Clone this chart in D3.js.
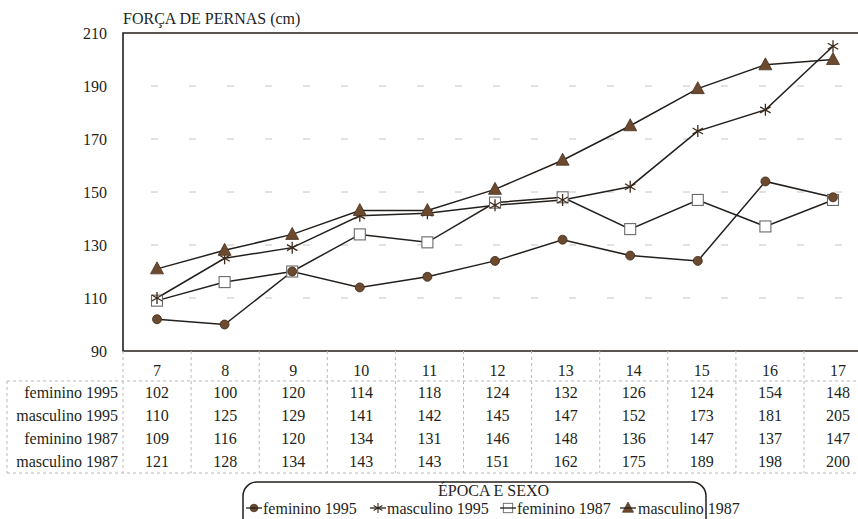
<!DOCTYPE html>
<html>
<head>
<meta charset="utf-8">
<script src="https://cdn.jsdelivr.net/npm/d3@7"></script>
<style>
  html, body { margin: 0; padding: 0; background: #fff; }
  text { font-family: "Liberation Serif", "Times New Roman", Tinos, serif !important; }
</style>
</head>
<body>
<svg id="chart" width="858" height="519" style="font-family: 'Liberation Serif', 'Times New Roman', serif"></svg>
<script>
// Idades (anos)
const idades = ["7", "8", "9", "10", "11", "12", "13", "14", "15", "16", "17"];

// Força de pernas (cm) por época e sexo
const feminino1995  = [102, 100, 120, 114, 118, 124, 132, 126, 124, 154, 148];
const masculino1995 = [110, 125, 129, 141, 142, 145, 147, 152, 173, 181, 205];
const feminino1987  = [109, 116, 120, 134, 131, 146, 148, 136, 147, 137, 147];
const masculino1987 = [121, 128, 134, 143, 143, 151, 162, 175, 189, 198, 200];

const nomesSeries = ["feminino 1995", "masculino 1995", "feminino 1987", "masculino 1987"];
const simbolos = ["circle", "star", "square", "triangle"];
const yTicks = [90, 110, 130, 150, 170, 190, 210];

const series = [feminino1995, masculino1995, feminino1987, masculino1987].map((v, i) => ({
  nome: nomesSeries[i], simbolo: simbolos[i], valores: v
}));

const FONT = "Liberation Serif";
const svg = d3.select("#chart");
const brown = "#6b4a2f", ink = "#231f1c";

// Texto com a fonte serifada
function txt(sel) {
  return sel.style("font-family", FONT).attr("fill", ink);
}

const plot = { left: 123, top: 33, bottom: 351 };
// colunas da tabela
const x = d3.scaleBand().domain(idades).range([plot.left, plot.left + 68.1 * idades.length]);
// posições dos pontos no gráfico
const xp = d3.scalePoint().domain(idades).range([157, 833]);
const y = d3.scaleLinear().domain([90, 210]).range([plot.bottom, plot.top]);
const cx = c => x(c) + x.bandwidth() / 2;
const right = x.range()[1];

// Título do eixo
txt(svg.append("text")).attr("x", 123).attr("y", 24)
  .attr("font-size", 16).text("FORÇA DE PERNAS (cm)");

// Linhas de grade tracejadas
svg.append("g").selectAll("line").data(yTicks.filter(t => t > 90 && t < 210)).join("line")
  .attr("x1", plot.left).attr("x2", right)
  .attr("y1", d => y(d)).attr("y2", d => y(d))
  .attr("stroke", "#c4c4c4").attr("stroke-width", 1)
  .attr("stroke-dasharray", "7,31").attr("stroke-dashoffset", -28);

// Eixo Y
const yAxis = d3.axisLeft(y).tickValues(yTicks).tickSize(0).tickPadding(16);
const gy = svg.append("g").attr("transform", `translate(${plot.left},0)`).call(yAxis);
gy.attr("font-family", null);
gy.select(".domain").remove();
txt(gy.selectAll("text")).attr("font-size", 16);

// Moldura da área do gráfico
svg.append("path")
  .attr("d", `M${right},${plot.top}H${plot.left}V${plot.bottom}H${right}`)
  .attr("fill", "none").attr("stroke", ink).attr("stroke-width", 1.6);

// Linhas das séries
const line = d3.line().x((d, i) => xp(idades[i])).y(d => y(d));
svg.append("g").selectAll("path").data(series).join("path")
  .attr("d", s => line(s.valores))
  .attr("fill", "none").attr("stroke", ink).attr("stroke-width", 1.5);

// Símbolos
function drawSymbol(g, tipo) {
  if (tipo === "circle") {
    g.append("circle").attr("r", 4.5).attr("fill", brown).attr("stroke", "#3d2a1b").attr("stroke-width", 0.8);
  } else if (tipo === "star") {
    const r = 6;
    g.append("path")
      .attr("d", `M0,${-r}V${r}M${-r * 0.87},${-r * 0.5}L${r * 0.87},${r * 0.5}M${-r * 0.87},${r * 0.5}L${r * 0.87},${-r * 0.5}`)
      .attr("stroke", "#3d2a1b").attr("stroke-width", 1.3).attr("fill", "none");
  } else if (tipo === "square") {
    g.append("rect").attr("x", -5.5).attr("y", -5.5).attr("width", 11).attr("height", 11)
      .attr("fill", "#fff").attr("stroke", "#6a6a6a").attr("stroke-width", 1.1);
  } else if (tipo === "triangle") {
    g.append("path").attr("d", "M0,-7L6.5,5H-6.5Z").attr("fill", brown)
      .attr("stroke", "#4a3220").attr("stroke-width", 0.8);
  }
}

// Ordem de desenho: quadrados sob as outras marcas
[2, 0, 1, 3].forEach(k => {
  const s = series[k];
  svg.append("g").selectAll("g").data(s.valores).join("g")
    .attr("transform", (d, i) => `translate(${xp(idades[i])},${y(d)})`)
    .each(function () { drawSymbol(d3.select(this), s.simbolo); });
});

// Tabela de dados
const tab = { headerTop: 351, headerBottom: 381, rowH: 23, labelLeft: 7 };
const tabBottom = tab.headerBottom + tab.rowH * series.length;
const grid = svg.append("g").attr("stroke", "#b9b9b9").attr("stroke-width", 1)
  .attr("stroke-dasharray", "3,3");
const bounds = idades.map(c => x(c)).concat([right]);
grid.selectAll("line.v").data(bounds).join("line").attr("class", "v")
  .attr("x1", d => d).attr("x2", d => d)
  .attr("y1", tab.headerTop).attr("y2", tabBottom);
grid.append("line").attr("x1", tab.labelLeft).attr("x2", tab.labelLeft)
  .attr("y1", tab.headerBottom).attr("y2", tabBottom);
grid.selectAll("line.h").data([tab.headerBottom, tabBottom]).join("line").attr("class", "h")
  .attr("x1", tab.labelLeft).attr("x2", right)
  .attr("y1", d => d).attr("y2", d => d);

// Cabeçalho: idades
txt(svg.append("g").selectAll("text").data(idades).join("text"))
  .attr("x", d => cx(d)).attr("y", 376)
  .attr("text-anchor", "middle").attr("font-size", 16).text(d => d);

// Linhas de valores
series.forEach((s, r) => {
  const ty = tab.headerBottom + tab.rowH * r + tab.rowH / 2 + 5.5;
  txt(svg.append("text")).attr("x", plot.left - 5).attr("y", ty)
    .attr("text-anchor", "end").attr("font-size", 16).text(s.nome);
  txt(svg.append("g").selectAll("text").data(s.valores).join("text"))
    .attr("x", (d, i) => cx(idades[i])).attr("y", ty)
    .attr("text-anchor", "middle").attr("font-size", 16).text(d => d);
});

// Legenda
const leg = svg.append("g");
leg.append("rect").attr("x", 243).attr("y", 482).attr("width", 463).attr("height", 60)
  .attr("rx", 14).attr("fill", "none").attr("stroke", ink).attr("stroke-width", 1.5);
txt(leg.append("text")).attr("x", 438).attr("y", 496)
  .attr("font-size", 16).text("ÉPOCA E SEXO");

const legItems = [
  { mx: 254, tx: 263 },
  { mx: 378, tx: 387 },
  { mx: 508, tx: 517 },
  { mx: 628, tx: 638 }
];
series.forEach((s, i) => {
  const it = legItems[i];
  const g = leg.append("g").attr("transform", `translate(${it.mx},508)`);
  const m = g.append("g").attr("transform", "scale(0.85)");
  drawSymbol(m, s.simbolo);
  g.append("line").attr("x1", -8).attr("x2", 8).attr("stroke", ink).attr("stroke-width", 1.3);
  txt(leg.append("text")).attr("x", it.tx).attr("y", 513.5)
    .attr("font-size", 16).text(s.nome);
});
</script>
</body>
</html>
